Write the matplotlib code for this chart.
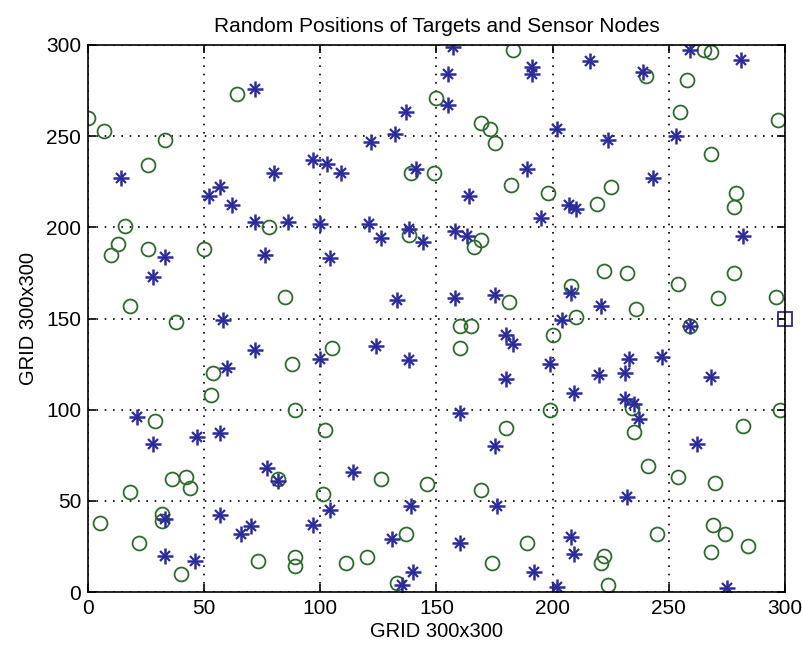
import matplotlib
matplotlib.use("Agg")
import matplotlib.pyplot as plt

plt.rcParams['font.family'] = ['Liberation Sans', 'DejaVu Sans']

# target positions (green circles)
target_x = [0, 7, 33, 26, 64, 16, 13, 10, 26, 18, 38, 50, 78, 85, 105, 88, 54, 53,
            89, 29, 102, 36, 42, 44, 18, 5, 32, 32, 22, 40, 73, 82, 101, 89, 89, 111,
            126, 120, 137, 133, 146, 150, 149, 139, 138, 169, 173, 175, 166, 169, 183,
            240, 182, 198, 219, 225, 160, 165, 160, 181, 200, 199, 180, 169, 174, 189,
            208, 210, 222, 232, 236, 234, 235, 241, 221, 222, 224, 245, 265, 268, 258,
            255, 254, 268, 297, 279, 278, 271, 278, 296, 259, 298, 254, 270, 269, 274,
            268, 284, 282]
target_y = [260, 253, 248, 234, 273, 201, 191, 185, 188, 157, 148, 188, 200, 162, 134,
            125, 120, 108, 100, 94, 89, 62, 63, 57, 55, 38, 43, 39, 27, 10, 17, 62, 54,
            19, 14, 16, 62, 19, 32, 5, 59, 271, 230, 230, 196, 257, 254, 246, 189, 193,
            297, 283, 223, 219, 213, 222, 146, 146, 134, 159, 141, 100, 90, 56, 16, 27,
            168, 151, 176, 175, 155, 101, 88, 69, 16, 20, 4, 32, 297, 296, 281, 263, 169,
            240, 259, 219, 211, 161, 175, 162, 146, 100, 63, 60, 37, 32, 22, 25, 91]

# sensor node positions (blue stars)
sensor_x = [72, 14, 33, 28, 52, 57, 62, 72, 80, 86, 76, 97, 100, 103, 104, 109, 58, 60,
            72, 100, 21, 28, 47, 57, 33, 33, 46, 57, 77, 82, 66, 70, 97, 104, 114, 121,
            122, 124, 126, 131, 132, 133, 135, 137, 138, 139, 140, 138, 141, 144, 155,
            155, 157, 158, 158, 160, 160, 163, 164, 175, 175, 176, 180, 180, 183, 189,
            191, 191, 192, 195, 199, 202, 202, 204, 207, 208, 209, 210, 208, 209, 216,
            220, 221, 224, 231, 231, 232, 233, 235, 237, 239, 243, 247, 253, 259, 259,
            262, 268, 275, 281, 282]
sensor_y = [276, 227, 184, 173, 217, 222, 212, 203, 230, 203, 185, 237, 202, 235, 183,
            230, 149, 123, 133, 128, 96, 81, 85, 87, 40, 20, 17, 42, 68, 61, 32, 36, 37,
            45, 66, 202, 247, 135, 194, 29, 251, 160, 4, 263, 127, 47, 11, 199, 232, 192,
            284, 267, 299, 198, 161, 98, 27, 195, 217, 163, 80, 47, 141, 117, 136, 232,
            288, 284, 11, 205, 125, 254, 3, 149, 212, 164, 109, 210, 30, 21, 291, 119,
            157, 248, 120, 106, 52, 128, 103, 95, 285, 227, 129, 250, 297, 146, 81, 118,
            2, 292, 195]

# base station
base_x = [300]
base_y = [150]

fig = plt.figure(figsize=(8.02, 6.52), dpi=100)
ax = fig.add_axes([0.1097, 0.092, 0.8691, 0.839])

ax.plot(target_x, target_y, 'o', markerfacecolor='none', markeredgecolor='#2e6b2e',
        markersize=10, markeredgewidth=1.3)
# asterisk drawn as a plus with a smaller cross on top
ax.plot(sensor_x, sensor_y, linestyle='none', marker='+', color='#2b2b9a',
        markersize=12, markeredgewidth=1.8)
ax.plot(sensor_x, sensor_y, linestyle='none', marker='x', color='#2b2b9a',
        markersize=7, markeredgewidth=1.6)
ax.plot(base_x, base_y, 's', markerfacecolor='none', markeredgecolor='#2b2b7a',
        markersize=10, markeredgewidth=1.3, clip_on=False)

ax.set_xlim(0, 300)
ax.set_ylim(0, 300)
ax.set_xticks(range(0, 301, 50))
ax.set_yticks(range(0, 301, 50))
ax.grid(True, linestyle=(0, (1, 4)), color='black', linewidth=1.2)
ax.tick_params(direction='in', top=True, right=True, labelsize=15, length=6, width=1.2)
ax.tick_params(axis='x', pad=5)
ax.tick_params(axis='y', pad=5)
for s in ax.spines.values():
    s.set_linewidth(1.2)

ax.set_xlabel('GRID 300x300', fontsize=14.5, labelpad=3)
ax.set_ylabel('GRID 300x300', fontsize=14.5, labelpad=6)
ax.set_title('Random Positions of Targets and Sensor Nodes', fontsize=15, pad=9)

fig.savefig('out.png', dpi=100)
